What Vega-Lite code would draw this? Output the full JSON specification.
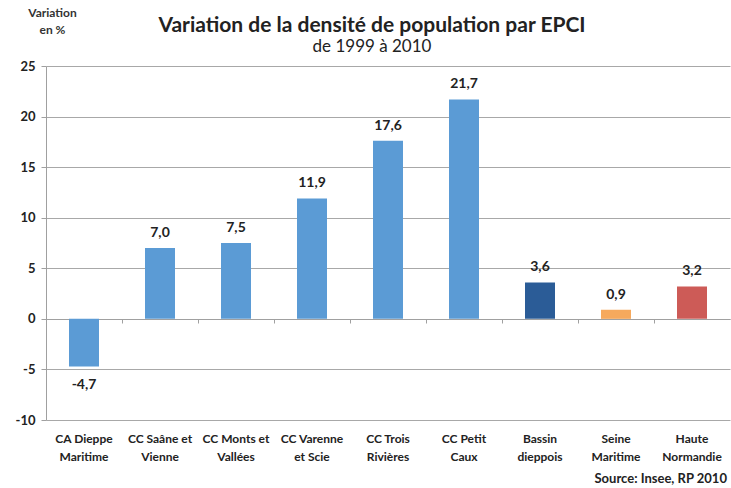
{
  "$schema": "https://vega.github.io/schema/vega-lite/v6.json",
  "width": 684,
  "height": 354,
  "autosize": "none",
  "padding": {"left": 46, "top": 66, "right": 1, "bottom": 68},
  "background": "white",
  "config": {
    "locale": {"number": {"decimal": ",", "thousands": " ", "grouping": [3], "currency": ["", " €"], "minus": "-"}},
    "font": "Lato",
    "view": {"stroke": null}
  },
  "title": {
    "text": "Variation de la densité de population par EPCI",
    "subtitle": "de 1999 à 2010",
    "anchor": "middle",
    "dx": -16,
    "dy": 61,
    "offset": 12,
    "font": "Lato",
    "fontSize": 21,
    "fontWeight": "bold",
    "color": "#222222",
    "subtitleFont": "Lato",
    "subtitleFontSize": 17,
    "subtitleColor": "#222222",
    "subtitlePadding": 3
  },
  "data": {
    "values": [
      {"epci": "CA Dieppe Maritime", "v": -4.7, "grp": "epci"},
      {"epci": "CC Saâne et Vienne", "v": 7.0, "grp": "epci"},
      {"epci": "CC Monts et Vallées", "v": 7.5, "grp": "epci"},
      {"epci": "CC Varenne et Scie", "v": 11.9, "grp": "epci"},
      {"epci": "CC Trois Rivières", "v": 17.6, "grp": "epci"},
      {"epci": "CC Petit Caux", "v": 21.7, "grp": "epci"},
      {"epci": "Bassin dieppois", "v": 3.6, "grp": "bassin"},
      {"epci": "Seine Maritime", "v": 0.9, "grp": "dep"},
      {"epci": "Haute Normandie", "v": 3.2, "grp": "reg"}
    ]
  },
  "layer": [
    {
      "mark": {"type": "bar", "size": 30},
      "encoding": {
        "x": {
          "field": "epci", "type": "nominal", "sort": null,
          "scale": {"paddingInner": 0, "paddingOuter": 0},
          "axis": {
            "orient": "bottom",
            "offset": -101,
            "labels": false,
            "title": null,
            "domainColor": "#a0a0a0",
            "tickColor": "#a0a0a0",
            "tickSize": 4,
            "bandPosition": 0,
            "grid": false
          }
        },
        "y": {
          "field": "v", "type": "quantitative",
          "scale": {"domain": [-10, 25], "nice": false},
          "axis": {
            "values": [-10, -5, 0, 5, 10, 15, 20, 25],
            "format": "d",
            "title": ["Variation", "en %"],
            "titleAngle": 0,
            "titleX": 6,
            "titleY": -47,
            "titleAlign": "center",
            "titleFont": "Lato",
            "titleFontSize": 12,
            "titleFontWeight": "bold",
            "titleColor": "#333333",
            "titleLineHeight": 17,
            "labelFont": "Lato",
            "labelFontSize": 13,
            "labelFontWeight": "bold",
            "labelColor": "#222222",
            "labelPadding": 6,
            "domainColor": "#a0a0a0",
            "tickColor": "#a0a0a0",
            "tickSize": 5,
            "gridColor": "#a8a8a8",
            "gridWidth": 1
          }
        },
        "color": {
          "field": "grp", "type": "nominal", "legend": null,
          "scale": {"domain": ["epci", "bassin", "dep", "reg"], "range": ["#5b9bd5", "#2b5c97", "#f6a95d", "#cd5b57"]}
        }
      }
    },
    {
      "transform": [{"filter": "datum.v >= 0"}],
      "mark": {"type": "text", "fontWeight": "bold", "fontSize": 14, "font": "Lato", "color": "#222222", "dy": -15},
      "encoding": {
        "x": {
          "field": "epci", "type": "nominal", "sort": null,
          "axis": {
            "orient": "bottom",
            "domain": false,
            "ticks": false,
            "labelExpr": "datum.label == 'CC Varenne et Scie' ? ['CC Varenne', 'et Scie'] : [substring(datum.label, 0, lastindexof(datum.label, ' ')), substring(datum.label, lastindexof(datum.label, ' ') + 1)]",
            "labelFont": "Lato",
            "labelFontSize": 12,
            "labelFontWeight": "bold",
            "labelColor": "#222222",
            "labelPadding": 13,
            "labelLineHeight": 18,
            "labelAngle": 0,
            "title": "Source: Insee, RP 2010",
            "titleX": 548,
            "titleAlign": "left",
            "titleFont": "Lato",
            "titleFontSize": 13,
            "titleFontWeight": "bold",
            "titleColor": "#222222",
            "titlePadding": 10
          }
        },
        "y": {"field": "v", "type": "quantitative"},
        "text": {"field": "v", "type": "quantitative", "format": ".1f"}
      }
    },
    {
      "transform": [{"filter": "datum.v < 0"}],
      "mark": {"type": "text", "fontWeight": "bold", "fontSize": 14, "font": "Lato", "color": "#222222", "dy": 19},
      "encoding": {
        "x": {"field": "epci", "type": "nominal", "sort": null, "axis": null},
        "y": {"field": "v", "type": "quantitative"},
        "text": {"field": "v", "type": "quantitative", "format": ".1f"}
      }
    }
  ],
  "resolve": {"axis": {"x": "independent"}}
}
